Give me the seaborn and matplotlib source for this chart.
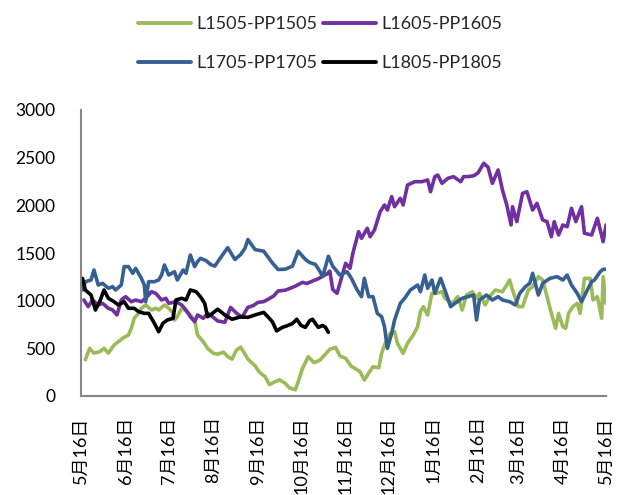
import matplotlib
matplotlib.use("Agg")
import matplotlib.pyplot as plt
import matplotlib.dates as mdates
from matplotlib.ticker import FuncFormatter
from matplotlib.lines import Line2D
import pandas as pd
import seaborn as sns

# ---------------- data (days counted from 16 May) ----------------
series_names = ["L1505-PP1505", "L1605-PP1605", "L1705-PP1705", "L1805-PP1805"]
series_colors = ["#9BBB59", "#7030A0", "#376092", "#000000"]

green_days = [3, 6, 9, 13, 16, 19, 23, 26, 29, 33, 35, 37, 40, 42, 45, 49, 52, 54, 58, 61,
              64, 65, 67, 70, 72, 75, 79, 81, 85, 88, 92, 95, 99, 102, 105, 108, 111, 114, 116, 121,
              124, 128, 131, 135, 138, 142, 145, 149, 151, 154, 158, 162, 166, 170, 173, 177, 180, 184, 188, 191,
              194, 197, 200, 203, 207, 209, 211, 215, 218, 220, 224, 227, 231, 234, 236, 238, 241, 244, 247, 251,
              253, 258, 262, 265, 268, 272, 275, 277, 281, 284, 288, 293, 296, 298, 300, 304, 307, 311, 314, 318,
              321, 324, 327, 330, 332, 335, 337, 339, 342, 345, 347, 350, 354, 356, 359, 362, 363, 365]
green_vals = [380, 500, 450, 465, 500, 450, 535, 570, 605, 640, 710, 815, 867, 920, 955, 902, 920, 902, 955, 920,
              870, 797, 832, 920, 902, 867, 797, 640, 570, 500, 448, 439, 460, 413, 387, 480, 512, 440, 387, 317,
              250, 203, 120, 150, 170, 133, 85, 65, 150, 290, 413, 350, 375, 440, 490, 510, 420, 395, 310, 285,
              255, 168, 240, 307, 295, 448, 535, 658, 675, 553, 448, 553, 640, 727, 884, 937, 850, 1077, 1077, 1094,
              1025, 972, 1042, 902, 1059, 1094, 1025, 1077, 955, 1042, 1112, 1094, 1164, 1217, 1112, 937, 937, 1112, 1147, 1252,
              1217, 1042, 867, 710, 867, 727, 710, 867, 937, 972, 867, 1234, 1234, 1007, 1042, 815, 1252, 972]

purple_days = [2, 5, 8, 12, 15, 19, 22, 25, 28, 31, 35, 38, 42, 45, 49, 52, 56, 59, 61, 66,
               70, 73, 76, 79, 81, 85, 88, 90, 95, 100, 104, 108, 112, 116, 120, 123, 127, 130, 134, 137,
               142, 147, 150, 154, 157, 161, 165, 168, 171, 173, 175, 178, 180, 184, 187, 189, 193, 195, 199, 201,
               204, 208, 211, 213, 216, 218, 222, 224, 227, 232, 237, 241, 243, 246, 248, 251, 255, 259, 264, 266,
               269, 273, 276, 280, 283, 286, 290, 293, 296, 299, 300, 303, 307, 310, 314, 317, 321, 324, 327, 329,
               332, 335, 338, 341, 344, 348, 350, 355, 359, 363, 365]
purple_vals = [1007, 937, 1007, 955, 972, 920, 902, 850, 1007, 1042, 989, 1007, 989, 1025, 1094, 1077, 1007, 1025, 972, 989,
               955, 902, 832, 779, 850, 815, 867, 850, 787, 773, 930, 870, 826, 930, 950, 982, 990, 1014, 1050, 1101,
               1110, 1139, 1160, 1192, 1180, 1206, 1230, 1258, 1280, 1310, 1118, 1077, 1182, 1392, 1339, 1497, 1724, 1654, 1759, 1671,
               1741, 1933, 2004, 1951, 2091, 1986, 2074, 2004, 2213, 2248, 2248, 2266, 2143, 2301, 2318, 2231, 2283, 2301, 2248, 2301,
               2301, 2310, 2340, 2441, 2400, 2231, 2371, 2161, 2004, 1794, 1986, 1829, 2126, 2143, 1951, 2021, 1846, 1829, 1671, 1829,
               1689, 1794, 1776, 1969, 1829, 1986, 1707, 1689, 1864, 1619, 1794]

blue_days = [1, 3, 7, 9, 12, 15, 19, 22, 24, 28, 30, 33, 36, 38, 42, 44, 45, 47, 51, 54,
             56, 58, 61, 65, 67, 71, 73, 76, 79, 81, 83, 87, 90, 93, 97, 102, 107, 111, 114, 116,
             121, 127, 133, 137, 142, 147, 151, 156, 159, 163, 166, 168, 172, 175, 180, 185, 188, 192, 195, 197,
             200, 203, 206, 209, 211, 213, 216, 218, 222, 225, 229, 234, 236, 239, 241, 244, 246, 250, 253, 257,
             260, 265, 269, 273, 275, 277, 282, 286, 290, 293, 298, 302, 305, 309, 312, 314, 318, 321, 326, 331,
             335, 338, 341, 345, 348, 352, 355, 357, 361, 363, 365]
blue_vals = [1112, 1199, 1217, 1322, 1164, 1182, 1130, 1147, 1112, 1164, 1357, 1357, 1287, 1339, 1234, 1164, 989, 1199, 1199, 1217,
             1269, 1374, 1269, 1304, 1217, 1322, 1287, 1479, 1357, 1409, 1444, 1420, 1380, 1362, 1450, 1556, 1432, 1484, 1550, 1641,
             1536, 1519, 1397, 1327, 1330, 1362, 1519, 1432, 1400, 1380, 1310, 1252, 1466, 1362, 1269, 1304, 1234, 1112, 1042, 1234,
             1042, 1042, 867, 832, 727, 500, 658, 797, 972, 1025, 1112, 1164, 1094, 1269, 1130, 1217, 1077, 1234, 1112, 937,
             972, 1025, 1042, 1059, 797, 1007, 1059, 1007, 1042, 1007, 989, 955, 1077, 1147, 1182, 1287, 1059, 1182, 1234, 1252,
             1217, 1269, 1164, 1077, 989, 1112, 1199, 1217, 1304, 1329, 1329]

black_days = [1, 3, 7, 10, 13, 16, 19, 23, 26, 30, 33, 37, 40, 44, 47, 51, 54, 57, 60, 64,
              66, 70, 73, 76, 80, 83, 86, 88, 90, 95, 100, 105, 111, 116, 121, 127, 130, 133, 136, 140,
              143, 147, 150, 153, 156, 159, 161, 163, 165, 168, 170, 172]
black_vals = [1234, 1112, 1059, 902, 989, 1112, 1025, 989, 955, 989, 920, 920, 885, 867, 867, 763, 675, 763, 797, 815,
              1007, 1025, 1007, 1112, 1094, 1042, 972, 832, 850, 910, 850, 805, 830, 825, 850, 877, 830, 780, 683, 720,
              735, 760, 805, 740, 720, 790, 805, 760, 720, 740, 720, 668]

y_ticks = [0, 500, 1000, 1500, 2000, 2500, 3000]
start_date = pd.Timestamp("2017-05-16")
end_date = pd.Timestamp("2018-05-16")

# ---------------- build long table ----------------
frames = []
for name, days, vals in zip(series_names,
                            [green_days, purple_days, blue_days, black_days],
                            [green_vals, purple_vals, blue_vals, black_vals]):
    frames.append(pd.DataFrame({
        "date": start_date + pd.to_timedelta(days, unit="D"),
        "value": vals,
        "series": name,
    }))
df = pd.concat(frames, ignore_index=True)

# ---------------- style ----------------
sns.set_theme(style="white")
plt.rcParams["font.family"] = ["Lato", "Noto Sans CJK SC", "DejaVu Sans"]

W, H = 624, 495
fig = plt.figure(figsize=(W / 100, H / 100), dpi=100)
ax = fig.add_axes([81 / W, 1 - 396 / H, (606 - 81) / W, (396 - 110) / H])

sns.lineplot(data=df, x="date", y="value", hue="series", hue_order=series_names,
             palette=series_colors, estimator=None, sort=False, linewidth=2.6,
             legend=False, ax=ax)
for ln in ax.get_lines():
    ln.set_solid_joinstyle("round")
    ln.set_solid_capstyle("round")

ax.set_xlim(start_date, end_date)
ax.set_ylim(0, 3000)
ax.set_yticks(y_ticks)
ax.set_yticklabels([str(v) for v in y_ticks])
ax.set_xlabel("")
ax.set_ylabel("")

ax.xaxis.set_major_locator(mdates.MonthLocator(bymonthday=16))
ax.xaxis.set_major_formatter(FuncFormatter(
    lambda x, pos: "{}月{}日".format(mdates.num2date(x).month, mdates.num2date(x).day)))

axis_gray = "#868686"
for side in ["top", "right"]:
    ax.spines[side].set_visible(False)
for side in ["left", "bottom"]:
    ax.spines[side].set_color(axis_gray)
    ax.spines[side].set_linewidth(1.5)
ax.tick_params(axis="both", which="major", direction="out", length=5.5, width=1.5,
               color=axis_gray, labelcolor="black")
ax.tick_params(axis="y", pad=13, labelsize=12.5)
ax.tick_params(axis="x", pad=9, labelsize=13, labelrotation=90)
ax.grid(False)
ax.set_facecolor("white")
fig.patch.set_facecolor("white")

# legend: 2 columns, order fills column by column
order = [0, 2, 1, 3]
handles = [Line2D([0], [0], color=series_colors[i], lw=2.8, solid_capstyle="round") for i in order]
labels = [series_names[i] for i in order]
fig.legend(handles, labels, loc="center", bbox_to_anchor=(0.513, 0.912), ncol=2,
           frameon=False, fontsize=13, handlelength=2.9, handletextpad=0.3,
           columnspacing=0.35, labelspacing=1.28)

fig.savefig("out.png", dpi=100, facecolor="white")
